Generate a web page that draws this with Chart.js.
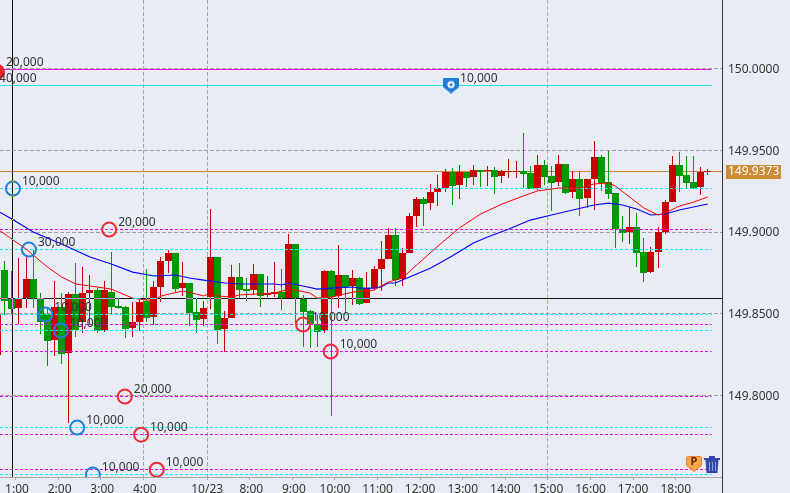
<!DOCTYPE html>
<html>
<head>
<meta charset="utf-8">
<style>
  html, body { margin: 0; padding: 0; background: #e9ecf5; overflow: hidden; }
  canvas { display: block; }
</style>
<script src="https://cdn.jsdelivr.net/npm/chart.js@4"></script>
</head>
<body>
<canvas id="canvas" width="790" height="493"></canvas>
<script>
// 10 minute candles (first one is cut by the left edge)
const firstCandle = -30;
const open = [149.8248,149.8768,149.8590,149.8535,149.8596,149.8713,149.8596,149.8498,149.8339,149.8541,
  149.8260,149.8621,149.8450,149.8627,149.8645,149.8401,149.8633,149.8547,149.8541,149.8413,
  149.8450,149.8578,149.8480,149.8664,149.8823,149.8872,149.8657,149.8688,149.8511,149.8468,
  149.8602,149.8847,149.8407,149.8474,149.8725,149.8651,149.8645,149.8743,149.8615,149.8621,
  149.8633,149.8596,149.8927,149.8590,149.8517,149.8437,149.8394,149.8761,149.8609,149.8737,
  149.8670,149.8719,149.8566,149.8657,149.8774,149.8835,149.8982,149.8713,149.8872,149.9098,
  149.9202,149.9177,149.9245,149.9269,149.9367,149.9287,149.9367,149.9336,149.9379,149.9373,
  149.9379,149.9342,149.9367,149.9367,149.9373,149.9361,149.9269,149.9410,149.9342,149.9306,
  149.9416,149.9245,149.9324,149.9208,149.9324,149.9459,149.9306,149.9239,149.9018,149.9000,
  149.9031,149.8878,149.8755,149.8878,149.9000,149.9183,149.9410,149.9349,149.9306,149.9275,149.9367];
const close = [149.8492,149.8578,149.8529,149.8596,149.8713,149.8596,149.8450,149.8333,149.8541,149.8254,
  149.8621,149.8401,149.8627,149.8645,149.8394,149.8645,149.8541,149.8535,149.8407,149.8450,
  149.8572,149.8474,149.8664,149.8823,149.8872,149.8651,149.8688,149.8505,149.8462,149.8535,
  149.8847,149.8401,149.8474,149.8725,149.8645,149.8639,149.8743,149.8609,149.8627,149.8633,
  149.8596,149.8927,149.8596,149.8511,149.8437,149.8388,149.8761,149.8602,149.8737,149.8664,
  149.8719,149.8560,149.8657,149.8774,149.8835,149.8982,149.8706,149.8872,149.9098,149.9202,
  149.9171,149.9245,149.9269,149.9367,149.9281,149.9367,149.9330,149.9379,149.9367,149.9379,
  149.9336,149.9373,149.9373,149.9373,149.9355,149.9263,149.9410,149.9336,149.9300,149.9416,
  149.9239,149.9324,149.9202,149.9324,149.9459,149.9300,149.9232,149.9018,149.8994,149.9031,
  149.8872,149.8749,149.8878,149.9000,149.9183,149.9410,149.9342,149.9300,149.9269,149.9367,149.9373];
const high = [149.8492,149.8823,149.8761,149.8841,149.8847,149.8890,149.8627,149.8535,149.8700,149.8627,
  149.8633,149.8810,149.8786,149.8737,149.8657,149.8700,149.8878,149.8596,149.8547,149.8572,
  149.8596,149.8774,149.8700,149.8847,149.8890,149.8872,149.8817,149.8688,149.8596,149.8578,
  149.9141,149.8847,149.8517,149.8798,149.8810,149.8719,149.8804,149.8743,149.8731,149.8817,
  149.8774,149.8988,149.8927,149.8615,149.8523,149.8498,149.8768,149.8768,149.8920,149.8737,
  149.8768,149.8725,149.8755,149.8792,149.8945,149.9024,149.9024,149.8902,149.9116,149.9214,
  149.9214,149.9294,149.9349,149.9385,149.9391,149.9410,149.9367,149.9410,149.9379,149.9404,
  149.9398,149.9379,149.9447,149.9434,149.9606,149.9404,149.9471,149.9440,149.9404,149.9471,
  149.9416,149.9373,149.9373,149.9324,149.9557,149.9471,149.9495,149.9239,149.9098,149.9153,
  149.9116,149.8963,149.8908,149.9031,149.9196,149.9465,149.9489,149.9465,149.9465,149.9398,149.9385];
const low = [149.8248,149.8492,149.8492,149.8437,149.8535,149.8535,149.8376,149.8180,149.8242,149.8193,
  149.7832,149.8358,149.8382,149.8431,149.8382,149.8388,149.8492,149.8529,149.8352,149.8358,
  149.8394,149.8450,149.8431,149.8572,149.8749,149.8633,149.8609,149.8425,149.8382,149.8425,
  149.8529,149.8315,149.8266,149.8474,149.8596,149.8578,149.8615,149.8541,149.8602,149.8602,
  149.8523,149.8596,149.8443,149.8297,149.8291,149.8297,149.8382,149.7875,149.8535,149.8505,
  149.8554,149.8554,149.8566,149.8645,149.8639,149.8835,149.8670,149.8670,149.8872,149.9031,
  149.9037,149.9135,149.9159,149.9245,149.9165,149.9202,149.9275,149.9287,149.9275,149.9281,
  149.9232,149.9300,149.9330,149.9330,149.9269,149.9263,149.9257,149.9287,149.9128,149.9281,
  149.9232,149.9208,149.9098,149.9147,149.9135,149.9251,149.9202,149.8902,149.8939,149.8927,
  149.8786,149.8694,149.8749,149.8780,149.8988,149.9183,149.9245,149.9263,149.9263,149.9226,149.9349];

// moving averages, read at these candles
const blueIndex = [-30,-28,-25,-21,-17,-14,-11,-8,-5,-3,-1,2,4,9,10,11,13,15,17,20,21,23,24,25,26,28,31,34,37,39,42,45,48,51,54,56,58,60,62,64,66,70];
const bluePrice = [149.9128,149.9080,149.9000,149.8927,149.8847,149.8804,149.8755,149.8731,149.8737,149.8719,149.8706,149.8688,149.8682,149.8682,149.8676,149.8688,149.8670,149.8651,149.8657,149.8664,149.8657,149.8657,149.8664,149.8688,149.8688,149.8725,149.8780,149.8853,149.8933,149.8969,149.9018,149.9073,149.9104,149.9135,149.9165,149.9177,149.9165,149.9141,149.9104,149.9110,149.9135,149.9171];
const redIndex = [-30,-26,-23,-21,-19,-16,-14,-11,-9,-8,-7,-4,-2,-1,0,1,3,4,9,11,12,14,15,17,20,23,25,26,27,29,32,35,38,41,44,46,49,52,54,56,57,59,61,63,64,66,68,70];
const redPrice = [149.9018,149.8896,149.8786,149.8725,149.8682,149.8664,149.8651,149.8596,149.8584,149.8584,149.8609,149.8639,149.8621,149.8609,149.8627,149.8609,149.8602,149.8615,149.8627,149.8651,149.8645,149.8627,149.8596,149.8602,149.8633,149.8645,149.8694,149.8706,149.8719,149.8798,149.8914,149.9024,149.9110,149.9171,149.9220,149.9251,149.9269,149.9269,149.9294,149.9300,149.9281,149.9214,149.9147,149.9104,149.9116,149.9159,149.9183,149.9214];

// horizontal levels
const currentPrice = 149.9373;
const solidMagenta = [149.9994];
const solidCyan = [149.9896];
const dashedCyan = [149.9266,149.8893,149.8495,149.8398,149.7804,149.7517];
const dashedMagenta = [149.9015,149.8434,149.8269,149.7994,149.7761,149.7547];

// position marks with their sizes
const buyIndex = [-27.85,-25.6,-23.3,-21.1,-18.8,-16.6];
const buyPrice = [149.9266,149.8893,149.8495,149.8398,149.7804,149.7517];
const buyText = ['10,000','30,000','10,000','10,000','10,000','10,000'];
const sellIndex = [-14.3,-12.1,-9.8,-7.6,13,16.9];
const sellPrice = [149.9015,149.7994,149.7761,149.7547,149.8434,149.8269];
const sellText = ['20,000','20,000','10,000','10,000','10,000','10,000'];
const pinIndex = [33.85,-31.08];
const pinPrice = [149.9896,149.9896];
const pinText = ['10,000','40,000'];
const flagIndex = [-30.1];
const flagPrice = [149.9979];
const flagText = ['20,000'];

const yTicks = [150, 149.95, 149.9, 149.85, 149.8];
const xTickIndex = [-27.5,-21.5,-15.5,-9.5,-0.5,5.5,11.5,17.5,23.5,29.5,35.5,41.5,47.5,53.5,59.5,65.5];
const xTickLabels = [' 1:00',' 2:00',' 3:00',' 4:00','10/23',' 8:00',' 9:00','10:00','11:00','12:00','13:00','14:00','15:00','16:00','17:00','18:00'];
const xGridIndex = [-9.5,-0.5,47.5];
const crossIndex = -27.9;
const crossPrice = 149.8593;

const RED = '#cc0000', GREEN = '#009900';
const FONT = '12px "Noto Sans"';
const xMin = -29.676, xMax = 72.014;
const levelEnd = 70.54;

function shieldPath(ctx, x, y, w, h) {
    ctx.beginPath();
    ctx.moveTo(x + 1, y);
    ctx.lineTo(x + w - 1, y);
    ctx.lineTo(x + w, y + 1);
    ctx.lineTo(x + w, y + h * 0.6);
    ctx.lineTo(x + w / 2, y + h);
    ctx.lineTo(x, y + h * 0.6);
    ctx.lineTo(x, y + 1);
    ctx.closePath();
}

function makePinImage() {
    const c = document.createElement('canvas');
    c.width = 16;
    c.height = 16;
    const ctx = c.getContext('2d');
    ctx.fillStyle = '#1c7cd6';
    shieldPath(ctx, 0, 0, 16, 16);
    ctx.fill();
    ctx.strokeStyle = '#ffffff';
    ctx.lineWidth = 2;
    ctx.beginPath();
    ctx.arc(8, 7, 2.6, 0, Math.PI * 2);
    ctx.stroke();
    return c;
}

function points(xs, ys) {
    return xs.map((x, i) => ({ x: x, y: ys[i] }));
}

function levelSet(price, color, dash, end, order) {
    return {
        type: 'line',
        data: [{ x: xMin, y: price }, { x: end, y: price }],
        borderColor: color,
        borderWidth: 1,
        borderDash: dash,
        pointRadius: 0,
        snap: true,
        order: order
    };
}

function markSet(xs, ys, color) {
    return {
        type: 'scatter',
        data: points(xs, ys),
        pointRadius: 7,
        pointBorderWidth: 2,
        pointBorderColor: color,
        pointBackgroundColor: 'transparent',
        order: 1
    };
}

// keeps the marks on whole pixels like the original terminal does
const pixelSnap = {
    id: 'pixelSnap',
    beforeDatasetsDraw(chart) {
        chart.data.datasets.forEach((ds, i) => {
            const meta = chart.getDatasetMeta(i);
            if (meta.type === 'bar') {
                meta.data.forEach(el => {
                    el.x = Math.floor(el.x) + 0.5;
                    el.y = Math.round(el.y);
                    el.base = Math.round(el.base);
                });
            } else if (ds.snap) {
                meta.data.forEach(el => { el.y = Math.floor(el.y) + 0.5; });
            }
        });
    }
};

const paper = {
    id: 'paper',
    beforeDraw(chart) {
        const ctx = chart.ctx;
        ctx.save();
        ctx.fillStyle = '#e9ecf5';
        ctx.fillRect(0, 0, chart.width, chart.height);
        ctx.restore();
    }
};

const decorations = {
    id: 'decorations',
    afterDatasetsDraw(chart) {
        const ctx = chart.ctx;
        const x = chart.scales.x, y = chart.scales.y;
        const area = chart.chartArea;

        ctx.save();
        ctx.font = FONT;
        ctx.fillStyle = '#333333';
        ctx.textBaseline = 'middle';
        ctx.textAlign = 'left';
        [[buyIndex, buyPrice, buyText], [sellIndex, sellPrice, sellText],
         [pinIndex, pinPrice, pinText], [flagIndex, flagPrice.map(() => solidMagenta[0]), flagText]].forEach(group => {
            group[0].forEach((v, i) => {
                ctx.fillText(group[2][i], x.getPixelForValue(v) + 9, y.getPixelForValue(group[1][i]) - 7);
            });
        });

        // P badge and trash can
        ctx.fillStyle = '#ffa54a';
        ctx.strokeStyle = '#e8802a';
        shieldPath(ctx, 686.5, 456.5, 15, 15);
        ctx.fill();
        ctx.stroke();
        ctx.fillStyle = '#5a2a00';
        ctx.font = 'bold 11px "Noto Sans"';
        ctx.textAlign = 'center';
        ctx.fillText('P', 694, 462);

        ctx.fillStyle = '#3448a8';
        ctx.fillRect(704, 458, 16, 2);
        ctx.fillRect(709, 456, 6, 2);
        ctx.beginPath();
        ctx.moveTo(705.5, 460);
        ctx.lineTo(718.5, 460);
        ctx.lineTo(717.5, 473);
        ctx.lineTo(706.5, 473);
        ctx.closePath();
        ctx.fill();
        ctx.fillStyle = '#8fa0e0';
        ctx.fillRect(709, 462, 1, 9);
        ctx.fillRect(712, 462, 1, 9);
        ctx.fillRect(715, 462, 1, 9);

        // crosshair inverts what is under it
        ctx.globalCompositeOperation = 'difference';
        ctx.fillStyle = '#ffffff';
        ctx.fillRect(Math.floor(x.getPixelForValue(crossIndex)), area.top, 1, area.bottom - area.top);
        ctx.fillRect(area.left, Math.floor(y.getPixelForValue(crossPrice)), area.right - area.left, 1);
        ctx.restore();
    },
    afterDraw(chart) {
        const ctx = chart.ctx;
        const y = chart.scales.y;
        const py = y.getPixelForValue(currentPrice);
        ctx.save();
        ctx.fillStyle = '#333333';
        ctx.fillRect(722, 0, 1, chart.height);
        ctx.fillStyle = '#cf8a34';
        ctx.fillRect(726, Math.floor(py) - 6, 55, 14);
        ctx.fillStyle = '#ffffff';
        ctx.font = FONT;
        ctx.textAlign = 'left';
        ctx.textBaseline = 'middle';
        ctx.fillText(currentPrice.toFixed(4), 728, py + 0.5);
        ctx.restore();
    }
};

createChart();

function createChart() {
    const candleIndex = open.map((v, i) => firstCandle + i);
    const colors = open.map((v, i) => close[i] >= v ? RED : GREEN);

    const datasets = [
        levelSet(currentPrice, '#cd853f', [], xMax, 6),
        {
            label: 'wicks',
            data: candleIndex.map((j, i) => ({ x: j, y: [low[i], high[i]] })),
            backgroundColor: colors,
            barThickness: 1,
            grouped: false,
            inflateAmount: 0,
            order: 5
        },
        {
            label: 'bodies',
            data: candleIndex.map((j, i) => ({ x: j, y: [open[i], close[i]] })),
            backgroundColor: colors,
            barThickness: 7,
            grouped: false,
            inflateAmount: 0,
            order: 4
        },
        {
            type: 'line',
            data: points(redIndex, redPrice),
            borderColor: '#ff0000',
            borderWidth: 1,
            pointRadius: 0,
            order: 2
        },
        {
            type: 'line',
            data: points(blueIndex, bluePrice),
            borderColor: '#0000ff',
            borderWidth: 1.1,
            pointRadius: 0,
            order: 2
        },
        markSet(buyIndex, buyPrice, '#1f80d8'),
        markSet(sellIndex, sellPrice, '#f02c34'),
        {
            type: 'scatter',
            data: points(pinIndex, pinPrice),
            pointStyle: makePinImage(),
            order: 1
        },
        {
            type: 'scatter',
            data: points(flagIndex, flagPrice),
            pointRadius: 8,
            pointBorderWidth: 0,
            pointBackgroundColor: '#ee2028',
            order: 1
        }
    ];
    solidMagenta.forEach(p => datasets.push(levelSet(p, '#e01ad8', [], levelEnd, 3)));
    solidCyan.forEach(p => datasets.push(levelSet(p, '#20e4ee', [], levelEnd, 3)));
    dashedCyan.forEach(p => datasets.push(levelSet(p, '#00f4ff', [3, 2], levelEnd, 3)));
    dashedMagenta.forEach(p => datasets.push(levelSet(p, '#f000f0', [3, 2], levelEnd, 3)));

    const ctx = document.getElementById('canvas').getContext('2d');
    new Chart(ctx, {
        type: 'bar',
        data: { datasets: datasets },
        plugins: [paper, pixelSnap, decorations],
        options: {
            responsive: false,
            animation: false,
            layout: { padding: 0, autoPadding: false },
            plugins: { legend: { display: false }, tooltip: { enabled: false } },
            scales: {
                x: {
                    type: 'linear',
                    min: xMin,
                    max: xMax,
                    offset: false,
                    afterBuildTicks: s => { s.ticks = xTickIndex.map(v => ({ value: v })); },
                    afterFit: s => { s.height = 16; s.paddingLeft = 0; s.paddingRight = 0; },
                    border: { color: '#a8a8a8', dash: [4, 2] },
                    grid: {
                        offset: false,
                        tickLength: 3,
                        tickColor: '#a8a8a8',
                        tickBorderDash: [],
                        color: c => xGridIndex.includes(c.tick.value) ? '#a8a8a8' : 'transparent'
                    },
                    ticks: {
                        autoSkip: false,
                        maxRotation: 0,
                        padding: 2,
                        color: '#333333',
                        font: { family: '"Noto Sans"', size: 12 },
                        callback: (v, i) => xTickLabels[i]
                    }
                },
                y: {
                    position: 'right',
                    min: 149.7502,
                    max: 150.0419,
                    afterBuildTicks: s => { s.ticks = yTicks.map(v => ({ value: v })); },
                    afterFit: s => { s.width = 68; s.paddingTop = 0; s.paddingBottom = 0; },
                    border: { display: false, dash: [4, 2] },
                    grid: { color: '#a0a0a0', drawTicks: false },
                    ticks: {
                        padding: 6,
                        labelOffset: 1,
                        color: '#333333',
                        font: { family: '"Noto Sans"', size: 12 },
                        callback: v => v.toFixed(4)
                    }
                }
            }
        }
    });
}
</script>
</body>
</html>
